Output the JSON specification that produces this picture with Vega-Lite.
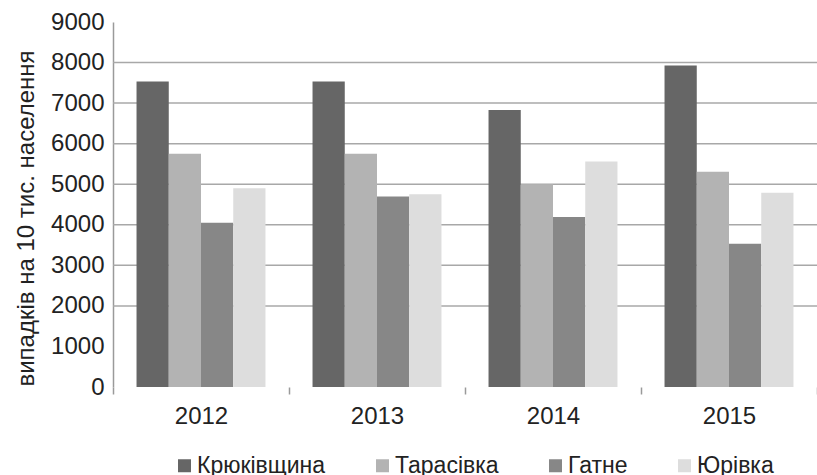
{
  "$schema": "https://vega.github.io/schema/vega-lite/v6.json",
  "width": 704,
  "height": 365,
  "autosize": {"type": "none"},
  "padding": {"left": 113, "top": 22, "right": 0, "bottom": 88},
  "background": "white",
  "config": {
    "view": {"stroke": null},
    "font": "Liberation Sans",
    "axisY": {
      "domainColor": "#9a9a9a",
      "domainWidth": 1.5,
      "ticks": false,
      "grid": false,
      "labelFontSize": 24,
      "labelPadding": 9,
      "labelColor": "#222222",
      "format": "d",
      "titleFontSize": 24,
      "titleFontWeight": "normal",
      "titleColor": "#222222",
      "titlePadding": 12,
      "titleY": 196
    }
  },
  "data": {
    "values": [
      {"year": "2012", "village": "Крюківщина", "value": 7530},
      {"year": "2012", "village": "Тарасівка", "value": 5750},
      {"year": "2012", "village": "Гатне", "value": 4050},
      {"year": "2012", "village": "Юрівка", "value": 4900},
      {"year": "2013", "village": "Крюківщина", "value": 7530},
      {"year": "2013", "village": "Тарасівка", "value": 5750},
      {"year": "2013", "village": "Гатне", "value": 4700},
      {"year": "2013", "village": "Юрівка", "value": 4750},
      {"year": "2014", "village": "Крюківщина", "value": 6830},
      {"year": "2014", "village": "Тарасівка", "value": 5000},
      {"year": "2014", "village": "Гатне", "value": 4190},
      {"year": "2014", "village": "Юрівка", "value": 5560},
      {"year": "2015", "village": "Крюківщина", "value": 7930},
      {"year": "2015", "village": "Тарасівка", "value": 5310},
      {"year": "2015", "village": "Гатне", "value": 3530},
      {"year": "2015", "village": "Юрівка", "value": 4790}
    ]
  },
  "layer": [
    {
      "data": {"values": [{"g": 2000}, {"g": 3000}, {"g": 4000}, {"g": 5000}, {"g": 6000}, {"g": 7000}, {"g": 8000}]},
      "mark": {"type": "rule", "color": "#a8a8a8", "strokeWidth": 1.5},
      "encoding": {
        "y": {
          "field": "g",
          "type": "quantitative",
          "title": "випадків на 10 тис. населення",
          "scale": {"domain": [0, 9000], "nice": false},
          "axis": {"values": [0, 1000, 2000, 3000, 4000, 5000, 6000, 7000, 8000, 9000]}
        }
      }
    },
    {
      "mark": {"type": "bar"},
      "encoding": {
        "x": {
          "field": "year",
          "type": "nominal",
          "scale": {"paddingInner": 0, "paddingOuter": 0},
          "axis": {
            "title": null,
            "labelAngle": 0,
            "domain": false,
            "tickBand": "extent",
            "tickSize": 7,
            "tickColor": "#9a9a9a",
            "tickWidth": 1.5,
            "labelFontSize": 24,
            "labelPadding": 10,
            "labelColor": "#222222"
          }
        },
        "xOffset": {
          "field": "village",
          "type": "nominal",
          "sort": ["Крюківщина", "Тарасівка", "Гатне", "Юрівка"],
          "scale": {"paddingInner": 0, "paddingOuter": 0.73}
        },
        "y": {
          "field": "value",
          "type": "quantitative",
          "title": "випадків на 10 тис. населення",
          "scale": {"domain": [0, 9000], "nice": false},
          "axis": {"values": [0, 1000, 2000, 3000, 4000, 5000, 6000, 7000, 8000, 9000]}
        },
        "color": {
          "field": "village",
          "type": "nominal",
          "sort": ["Крюківщина", "Тарасівка", "Гатне", "Юрівка"],
          "scale": {
            "domain": ["Крюківщина", "Тарасівка", "Гатне", "Юрівка"],
            "range": ["#666666", "#b3b3b3", "#878787", "#dddddd"]
          },
          "legend": {
            "title": null,
            "orient": "none",
            "legendX": 60,
            "legendY": 432,
            "direction": "horizontal",
            "symbolType": "square",
            "symbolSize": 169,
            "symbolStrokeWidth": 0,
            "labelFontSize": 23,
            "labelOffset": 1,
            "columnPadding": 45,
            "labelColor": "#222222"
          }
        }
      }
    }
  ]
}
